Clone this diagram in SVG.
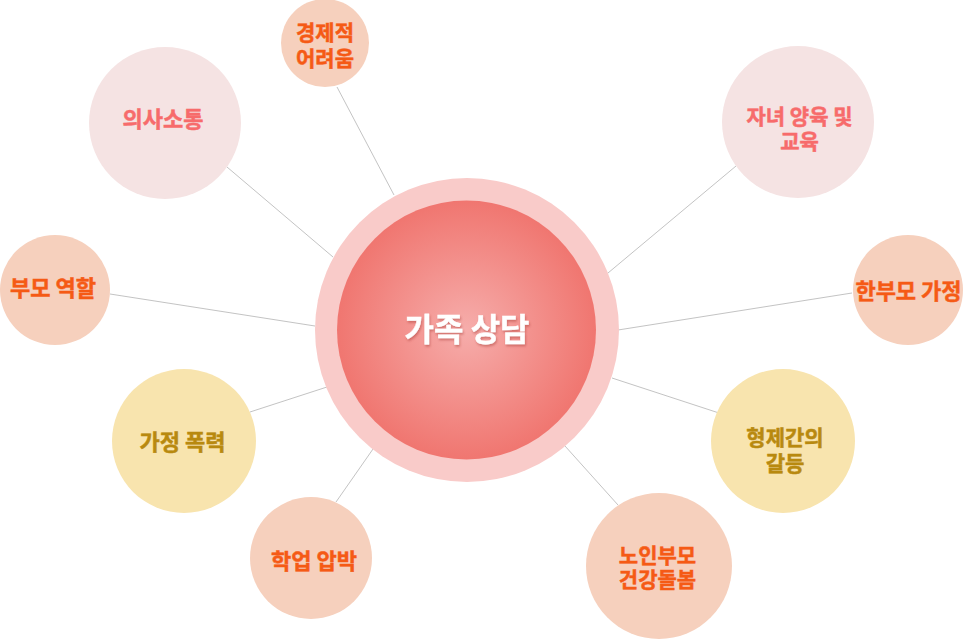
<svg xmlns="http://www.w3.org/2000/svg" width="963" height="639" viewBox="0 0 963 639">
<defs>
<radialGradient id="core" cx="50%" cy="50%" r="50%">
<stop offset="0" stop-color="#f6adab"/>
<stop offset="1" stop-color="#f07670"/>
</radialGradient>
<filter id="ts" x="-10%" y="-20%" width="130%" height="150%">
<feDropShadow dx="1" dy="2" stdDeviation="1.2" flood-color="#a83a35" flood-opacity="0.45"/>
</filter>
</defs>
<style>
text{font-family:"Noto Sans CJK KR","Noto Sans",sans-serif;font-weight:700;text-anchor:middle;font-size:22px;stroke-width:0.5}
.pink{fill:#f5e3e3}.peach{fill:#f6d0bd}.yel{fill:#f8e4ae}
.tp{fill:#f76b6b;stroke:#f76b6b}.to{fill:#f55a15;stroke:#f55a15}.ty{fill:#b8890f;stroke:#b8890f}
.two{font-size:21px}
.con line{stroke:#bcbcbc;stroke-width:0.9}
</style>
<rect width="963" height="639" fill="#ffffff"/>
<g class="con" id="connectors">
<line x1="337" y1="87" x2="394" y2="195"/>
<line x1="227" y1="167" x2="333" y2="257"/>
<line x1="110" y1="294" x2="315" y2="326"/>
<line x1="736" y1="166" x2="608" y2="273"/>
<line x1="852" y1="293" x2="618" y2="330"/>
<line x1="250" y1="412" x2="327" y2="387"/>
<line x1="336" y1="502" x2="373" y2="449"/>
<line x1="719" y1="413" x2="612" y2="378"/>
<line x1="618" y1="505" x2="565" y2="446"/>
</g>
<g id="center">
<circle cx="467" cy="330" r="152" fill="#f9cbc9"/>
<circle cx="466.5" cy="330" r="129.5" fill="url(#core)"/>
<text x="467" y="340.7" style="font-size:32px;fill:#ffffff;stroke:#ffffff;stroke-width:0.4" filter="url(#ts)">가족 상담</text>
</g>
<g id="n-economic">
<circle class="peach" cx="325" cy="43" r="44"/>
<text class="to two"><tspan x="325" y="40">경제적</tspan><tspan x="325" y="66">어려움</tspan></text>
</g>
<g id="n-communication">
<circle class="pink" cx="165" cy="123" r="76"/>
<text class="tp" x="163" y="127.4">의사소통</text>
</g>
<g id="n-parent-role">
<circle class="peach" cx="55" cy="290" r="55"/>
<text class="to" x="53" y="296.4">부모 역할</text>
</g>
<g id="n-child">
<circle class="pink" cx="798" cy="122" r="76"/>
<text class="tp two"><tspan x="799.5" y="124">자녀 양육 및</tspan><tspan x="799.5" y="149">교육</tspan></text>
</g>
<g id="n-single">
<circle class="peach" cx="908" cy="290" r="55"/>
<text class="to" x="908.5" y="298.9">한부모 가정</text>
</g>
<g id="n-violence">
<circle class="yel" cx="184" cy="441" r="72"/>
<text class="ty" x="182.5" y="449.9">가정 폭력</text>
</g>
<g id="n-academic">
<circle class="peach" cx="311" cy="558" r="61"/>
<text class="to" x="314" y="568.9">학업 압박</text>
</g>
<g id="n-sibling">
<circle class="yel" cx="783" cy="441" r="72"/>
<text class="ty two"><tspan x="785" y="445">형제간의</tspan><tspan x="785" y="470.5">갈등</tspan></text>
</g>
<g id="n-elder">
<circle class="peach" cx="659" cy="566" r="73"/>
<text class="to two"><tspan x="657.5" y="562.5">노인부모</tspan><tspan x="657.5" y="586.5">건강돌봄</tspan></text>
</g>
</svg>
